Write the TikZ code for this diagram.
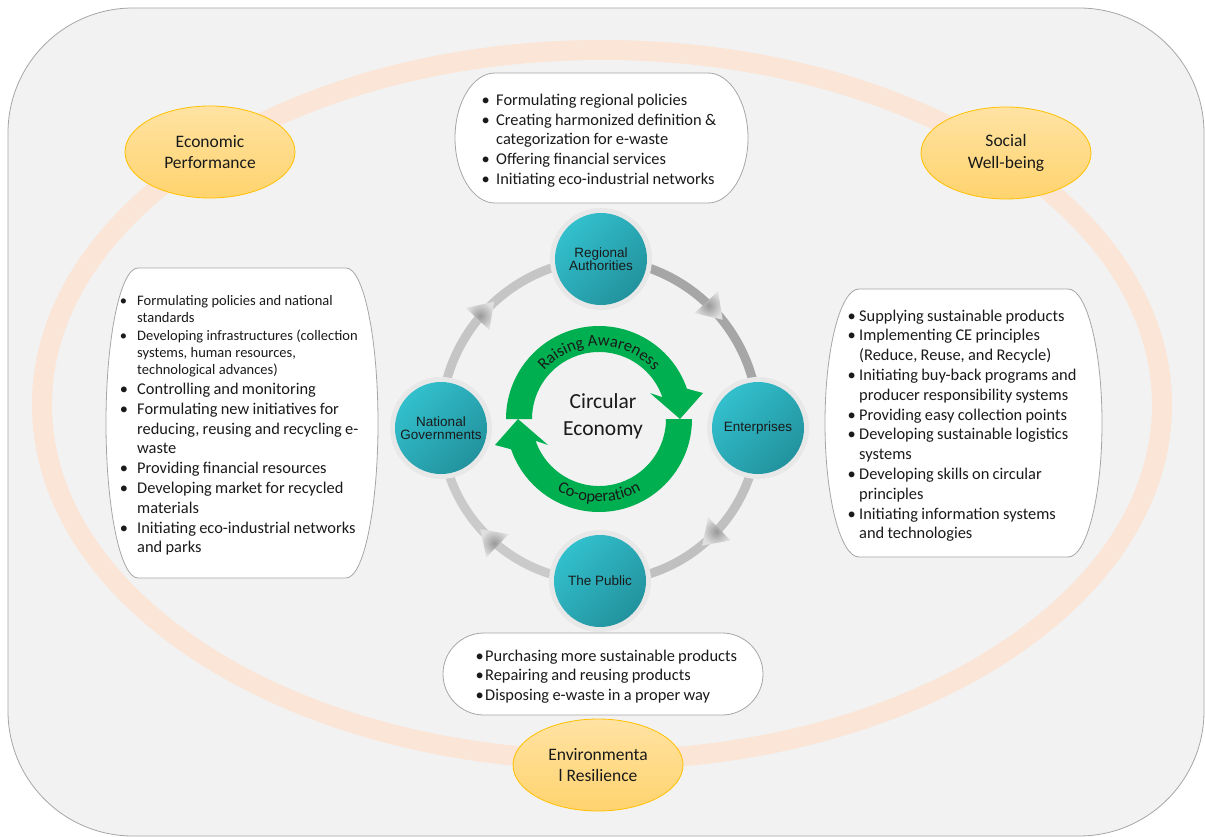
\documentclass[tikz,border=0pt]{standalone}
\usepackage{fontspec}
\setmainfont{Carlito}
\newfontfamily\arialf{Liberation Sans}
\usetikzlibrary{decorations.text,decorations.markings,shapes.geometric,arrows.meta}
\pgfdeclarelayer{back}
\pgfdeclarelayer{mid}
\pgfsetlayers{back,mid,main}

\definecolor{bgc}{HTML}{F2F2F2}
\definecolor{ringc}{HTML}{FBE5D6}
\definecolor{greenc}{HTML}{00B050}
\definecolor{tealA}{HTML}{33C2CF}
\definecolor{tealB}{HTML}{21909B}
\definecolor{boxline}{HTML}{A6A6A6}
\definecolor{ellA}{HTML}{FFE3A3}
\definecolor{ellB}{HTML}{FFD36E}
\definecolor{ellline}{HTML}{FFC000}
\definecolor{txt}{HTML}{1A1A1A}
\definecolor{halo}{HTML}{E8E8E8}
\definecolor{arcA}{HTML}{A6A6A6}
\definecolor{arcB}{HTML}{C0C0C0}
\definecolor{arcC}{HTML}{CACACA}
\definecolor{arcD}{HTML}{C5C5C5}

% soft rounded box: L T R B c  (pixel coords, y downwards)
\newcommand\softbox[5]{%
 \draw[listbox] ({#1+#5},{-#2}) -- ({#3-#5},{-#2})
  .. controls ({#3-0.45*#5},{-#2}) and ({#3},{-#2-0.225*(#4-#2)}) .. ({#3},{-0.5*(#2+#4)})
  .. controls ({#3},{-#4+0.225*(#4-#2)}) and ({#3-0.45*#5},{-#4}) .. ({#3-#5},{-#4})
  -- ({#1+#5},{-#4})
  .. controls ({#1+0.45*#5},{-#4}) and ({#1},{-#4+0.225*(#4-#2)}) .. ({#1},{-0.5*(#2+#4)})
  .. controls ({#1},{-#2-0.225*(#4-#2)}) and ({#1+0.45*#5},{-#2}) .. cycle;}

% bullet item: font, hang, text
\newcommand\bl[3]{\par\noindent#1\hangindent=#2pt\hangafter=1\makebox[#2pt][l]{\textbullet}#3}
\newcommand\bigf{\fontsize{16.4}{19.8}\selectfont}
\newcommand\smallf{\fontsize{14.5}{17.3}\selectfont}

\tikzset{
 listbox/.style={draw=boxline, line width=0.8pt, fill=white},
 listtext/.style={anchor=north west, inner sep=0pt, align=left, text=txt, text width=#1},
 pillar/.style={ellipse, minimum width=170pt, minimum height=92pt, draw=ellline,
   line width=0.8pt, top color=ellA, bottom color=ellB, align=center, text=txt,
   font=\fontsize{17.5}{21.5}\selectfont, inner sep=0pt},
 actor/.style={circle, minimum size=102pt, inner sep=0pt, fill=halo, align=center,
   text=txt, font=\arialf\fontsize{13.5}{13.5}\selectfont,
   path picture={\shade[top color=tealA, bottom color=tealB, shading angle=45]
     (path picture bounding box.center) circle[radius=46pt];}},
 cyc/.style={line width=9pt, postaction={decorate}, decoration={markings,
   mark=at position 0.5 with {\shade[inner color=gray!80, outer color=gray!25]
     (-12,-16) -- (12,0) -- (-12,16) -- cycle;}}},
}

\begin{document}
\begin{tikzpicture}[x=1pt,y=1pt]
\useasboundingbox (0,0) rectangle (1205,-837);
\begin{pgfonlayer}{back}
 \fill[white] (0,0) rectangle (1205,-837);
 \draw[fill=bgc, draw=boxline, line width=0.8pt, rounded corners=125pt] (8,-8) rectangle (1204,-836);
 \draw[ringc, line width=20pt] (602,-405) ellipse[x radius=560, y radius=355];
 \softbox{455}{73}{748}{203}{40}
 \softbox{106}{268}{378}{578}{32}
 \softbox{825}{289}{1102}{557}{34}
 \softbox{443}{633}{763}{715}{41}
\end{pgfonlayer}

% pillars
\node[pillar] (econ) at (210,-152) {Economic\\Performance};
\node[pillar] (soc) at (1006,-153) {Social\\Well-being};
\node[pillar] (env) at (598,-765) {Environmenta\\l Resilience};

% list texts
\node[listtext=290pt] (tlist) at (481.4,-85.3) {%
 \bl{\bigf}{14.6}{Formulating regional policies}
 \bl{\bigf}{14.6}{Creating harmonized definition \&\newline categorization for e-waste}
 \bl{\bigf}{14.6}{Offering financial services}
 \bl{\bigf}{14.6}{Initiating eco-industrial networks}\par};

\node[listtext=280pt] (llist) at (119.7,-288) {%
 \bl{\smallf}{17.3}{Formulating policies and national\newline standards}
 \bl{\smallf}{17.3}{Developing infrastructures (collection\newline systems, human resources,\newline technological advances)}
 \bl{\bigf}{17.3}{Controlling and monitoring}
 \bl{\bigf}{17.3}{Formulating new initiatives for\newline reducing, reusing and recycling e-\newline waste}
 \bl{\bigf}{17.3}{Providing financial resources}
 \bl{\bigf}{17.3}{Developing market for recycled\newline materials}
 \bl{\bigf}{17.3}{Initiating eco-industrial networks\newline and parks}\par};

\node[listtext=280pt] (rlist) at (847.4,-301) {%
 \bl{\bigf}{11.6}{Supplying sustainable products}
 \bl{\bigf}{11.6}{Implementing CE principles\newline (Reduce, Reuse, and Recycle)}
 \bl{\bigf}{11.6}{Initiating buy-back programs and\newline producer responsibility systems}
 \bl{\bigf}{11.6}{Providing easy collection points}
 \bl{\bigf}{11.6}{Developing sustainable logistics\newline systems}
 \bl{\bigf}{11.6}{Developing skills on circular\newline principles}
 \bl{\bigf}{11.6}{Initiating information systems\newline and technologies}\par};

\node[listtext=300pt] (blist) at (475.4,-641) {%
 \bl{\bigf}{9.6}{Purchasing more sustainable products}
 \bl{\bigf}{9.6}{Repairing and reusing products}
 \bl{\bigf}{9.6}{Disposing e-waste in a proper way}\par};

% actors
\node[actor] (RA) at (601,-259) {Regional\\Authorities};
\node[actor] (EN) at (758,-428) {Enterprises};
\node[actor] (NG) at (441,-428) {National\\Governments};
\node[actor] (PU) at (600,-581) {The Public};

\begin{pgfonlayer}{mid}
 \draw[cyc, draw=arcA] (RA.center) to[bend left=45] (EN.center);
 \draw[cyc, draw=arcB] (EN.center) to[bend left=45] (PU.center);
 \draw[cyc, draw=arcC] (PU.center) to[bend left=45] (NG.center);
 \draw[cyc, draw=arcD] (NG.center) to[bend left=45] (RA.center);
\end{pgfonlayer}

% green circular arrows
\begin{scope}[shift={(599,-419)}]
 \fill[greenc] (180:93) arc[start angle=180, end angle=19, radius=93]
   -- (104,26) -- (81,0) -- (51,26) -- (19:67)
   arc[start angle=19, end angle=180, radius=67] -- cycle;
 \fill[greenc] (0:93) arc[start angle=0, end angle=-161, radius=93]
   -- (-104,-26) -- (-81,0) -- (-51,-26) -- (199:67)
   arc[start angle=199, end angle=360, radius=67] -- cycle;
 \path[decorate, decoration={text along path, text align=center,
   text={|\fontsize{16.5}{19}\selectfont\color{txt}|Raising Awareness}}]
   (150:73) arc[start angle=150, end angle=30, radius=73];
 \path[decorate, decoration={text along path, text align=center,
   text={|\fontsize{16.5}{19}\selectfont\color{txt}|Co-operation}}]
   (225:83) arc[start angle=225, end angle=315, radius=83];
 \node[text=txt, align=center, font=\fontsize{21.5}{27}\selectfont] (ce) at (4,3) {Circular\\Economy};
\end{scope}
\end{tikzpicture}
\end{document}
